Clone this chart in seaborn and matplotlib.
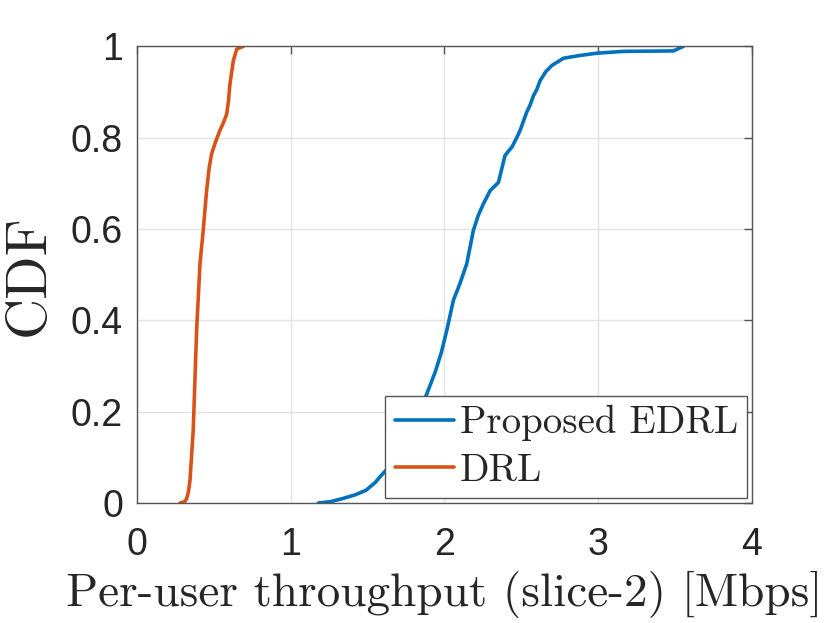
import numpy as np
import pandas as pd
import matplotlib
matplotlib.use("Agg")
import matplotlib.pyplot as plt
import seaborn as sns

# Data
edrl_x = [1.18, 1.26, 1.34, 1.42, 1.49, 1.55, 1.58, 1.62, 1.70, 1.80, 1.885, 1.94, 1.98,
          2.015, 2.058, 2.10, 2.145, 2.188, 2.22, 2.253, 2.297, 2.33, 2.351, 2.394, 2.42,
          2.438, 2.47, 2.492, 2.535, 2.555, 2.579, 2.60, 2.622, 2.66, 2.698, 2.774, 2.88,
          2.991, 3.164, 3.489, 3.554]
edrl_y = [0.0, 0.003, 0.01, 0.018, 0.028, 0.045, 0.057, 0.072, 0.11, 0.17, 0.239, 0.287,
          0.33, 0.378, 0.444, 0.48, 0.524, 0.597, 0.63, 0.655, 0.684, 0.695, 0.702, 0.761,
          0.772, 0.779, 0.80, 0.816, 0.856, 0.87, 0.892, 0.905, 0.925, 0.945, 0.958, 0.974,
          0.98, 0.985, 0.989, 0.990, 1.0]
drl_x = [0.28, 0.31, 0.323, 0.335, 0.345, 0.366, 0.388, 0.41, 0.431, 0.453, 0.47, 0.486,
         0.51, 0.54, 0.565, 0.584, 0.595, 0.605, 0.627, 0.649, 0.692]
drl_y = [0.0, 0.003, 0.009, 0.025, 0.05, 0.159, 0.378, 0.524, 0.597, 0.684, 0.735, 0.765,
         0.79, 0.816, 0.835, 0.852, 0.88, 0.918, 0.969, 0.994, 1.0]
series_names = ["Proposed EDRL", "DRL"]
x_ticks = [0, 1, 2, 3, 4]
y_ticks = [0, 0.2, 0.4, 0.6, 0.8, 1]
y_tick_labels = ["0", "0.2", "0.4", "0.6", "0.8", "1"]

df = pd.concat([
    pd.DataFrame({"x": edrl_x, "y": edrl_y, "method": series_names[0]}),
    pd.DataFrame({"x": drl_x, "y": drl_y, "method": series_names[1]}),
], ignore_index=True)

sns.set_style("white")
plt.rcParams["font.family"] = ["Liberation Sans", "DejaVu Sans"]

fig = plt.figure(figsize=(8.3, 6.23), dpi=100)
ax = fig.add_axes([0.165, 0.1926, 0.741, 0.733])

sns.lineplot(data=df, x="x", y="y", hue="method", sort=False, estimator=None,
             palette=["#0072BD", "#D95319"], linewidth=2.6, ax=ax)

ax.set_xlim(0, 4)
ax.set_ylim(0, 1)
ax.set_xticks(x_ticks)
ax.set_xticklabels([str(t) for t in x_ticks])
ax.set_yticks(y_ticks)
ax.set_yticklabels(y_tick_labels)
ax.grid(True, color="#e3e3e3", linewidth=1.0)
ax.set_axisbelow(True)
for s in ax.spines.values():
    s.set_visible(True)
    s.set_color("#555555")
    s.set_linewidth(1.0)
ax.tick_params(axis="both", which="both", direction="in", length=6, width=1,
               color="#555555", labelsize=27, labelcolor="#262626",
               top=True, right=True)
ax.tick_params(axis="x", pad=17)
ax.tick_params(axis="y", pad=10)

ax.set_xlabel("Per-user throughput (slice-2) [Mbps]", fontfamily="cmr10", fontsize=34,
              labelpad=6)
ax.set_ylabel("CDF", fontfamily="cmr10", fontsize=41, labelpad=12)

leg = ax.legend(loc="lower right", prop={"family": "cmr10", "size": 28},
                frameon=True, fancybox=False, edgecolor="#555555", framealpha=1,
                borderaxespad=0.12, handlelength=1.52, handletextpad=0.15,
                borderpad=0.24, labelspacing=0.3)
leg.get_frame().set_linewidth(1.0)
for line in leg.get_lines():
    line.set_linewidth(2.6)

fig.savefig("out.png", dpi=100)
